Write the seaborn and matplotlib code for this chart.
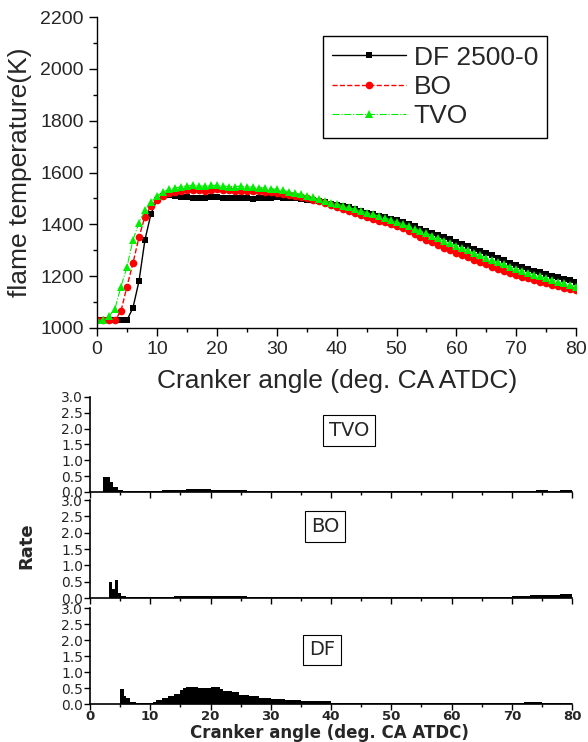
import numpy as np
import seaborn as sns
import matplotlib.pyplot as plt
from matplotlib.ticker import MultipleLocator

# flame temperature (K), 1 deg steps from 0 to 80 deg CA ATDC
angle = list(range(0, 81))
df_temp = [1030, 1030, 1030, 1030, 1030, 1030, 1078, 1180, 1340, 1440,
           1495, 1510, 1512, 1510, 1507, 1505, 1503, 1500, 1503, 1505,
           1505, 1502, 1500, 1500, 1502, 1500, 1498, 1500, 1502, 1502,
           1505, 1503, 1500, 1500, 1497, 1495, 1492, 1489, 1485, 1480,
           1475, 1470, 1465, 1458, 1452, 1445, 1440, 1433, 1428, 1422,
           1417, 1408, 1400, 1392, 1383, 1375, 1367, 1358, 1350, 1342,
           1333, 1324, 1315, 1306, 1297, 1288, 1280, 1271, 1262, 1252,
           1243, 1236, 1228, 1221, 1215, 1208, 1202, 1196, 1190, 1184, 1178]
bo_temp = [1030, 1030, 1030, 1030, 1065, 1160, 1250, 1350, 1430, 1470,
           1495, 1510, 1520, 1525, 1530, 1532, 1533, 1532, 1530, 1533,
           1535, 1533, 1532, 1530, 1530, 1530, 1528, 1527, 1526, 1524,
           1522, 1518, 1514, 1510, 1505, 1500, 1495, 1490, 1484, 1476,
           1468, 1460, 1452, 1444, 1436, 1428, 1420, 1414, 1408, 1402,
           1395, 1384, 1373, 1362, 1351, 1340, 1330, 1320, 1310, 1300,
           1290, 1281, 1272, 1263, 1254, 1245, 1237, 1229, 1221, 1213,
           1205, 1198, 1191, 1185, 1178, 1172, 1167, 1162, 1156, 1151, 1147]
tvo_temp = [1030, 1030, 1045, 1075, 1160, 1235, 1340, 1405, 1455, 1485,
            1510, 1525, 1535, 1540, 1545, 1548, 1550, 1548, 1547, 1550,
            1550, 1548, 1546, 1546, 1547, 1545, 1543, 1542, 1540, 1538,
            1535, 1531, 1526, 1521, 1516, 1510, 1504, 1497, 1490, 1484,
            1478, 1472, 1465, 1458, 1452, 1445, 1438, 1432, 1425, 1418,
            1410, 1401, 1392, 1383, 1374, 1365, 1356, 1346, 1337, 1327,
            1318, 1308, 1299, 1289, 1280, 1270, 1262, 1253, 1245, 1236,
            1228, 1221, 1214, 1206, 1199, 1192, 1185, 1179, 1172, 1166, 1160]

# rate bars: bin edges (deg) and heights
tvo_edges = [0, 2.2, 3.3, 3.8, 4.7, 5.5, 7, 10, 12, 14, 16, 18, 20, 22, 24, 26,
             28, 30, 35, 40, 45, 50, 55, 60, 65, 70, 72, 74, 76, 78, 80]
tvo_rate = [0, 0.47, 0.3, 0.15, 0.05, 0.03, 0.02, 0.03, 0.05, 0.07, 0.09, 0.08,
            0.07, 0.06, 0.05, 0.04, 0.03, 0.03, 0.02, 0.02, 0.02, 0.02, 0.02,
            0.03, 0.03, 0.04, 0.03, 0.06, 0.04, 0.07]
bo_edges = [0, 3.2, 3.6, 4.1, 4.7, 5.2, 6, 10, 14, 18, 22, 26, 30, 40, 50, 60,
            65, 70, 73, 76, 78, 80]
bo_rate = [0, 0.5, 0.29, 0.55, 0.15, 0.05, 0.02, 0.03, 0.05, 0.06, 0.05, 0.04,
           0.03, 0.02, 0.02, 0.03, 0.04, 0.06, 0.08, 0.1, 0.12]
df_edges = [0, 5, 5.6, 6, 6.7, 7.7, 9.3, 10.4, 11, 12, 13, 14, 15, 15.5, 16, 18,
            20, 21.5, 22, 23.5, 24.7, 26.4, 28, 30, 32.4, 35, 40, 50, 60, 70,
            72, 75, 80]
df_rate = [0, 0.47, 0.25, 0.2, 0.08, 0.03, 0.05, 0.08, 0.13, 0.2, 0.26, 0.33,
           0.45, 0.52, 0.53, 0.52, 0.54, 0.48, 0.42, 0.38, 0.28, 0.25, 0.2,
           0.15, 0.12, 0.1, 0.04, 0.03, 0.03, 0.04, 0.07, 0.04]

sns.set_style('ticks')
plt.rcParams['font.family'] = ['Liberation Sans', 'DejaVu Sans']
plt.rcParams['xtick.direction'] = 'out'
plt.rcParams['ytick.direction'] = 'out'

fig = plt.figure(figsize=(5.88, 7.42), dpi=100)

# ---- top: flame temperature ----
ax = fig.add_axes([0.165, 0.558, 0.815, 0.419])
sns.lineplot(x=angle, y=df_temp, ax=ax, color='black', marker='s', markersize=5,
             markeredgewidth=0, lw=1, label='DF 2500-0')
sns.lineplot(x=angle, y=bo_temp, ax=ax, color='#ff0000', marker='o', markersize=5.5,
             markeredgewidth=0, lw=1, linestyle='--', label='BO')
sns.lineplot(x=angle, y=tvo_temp, ax=ax, color='#00ee00', marker='^', markersize=6,
             markeredgewidth=0, lw=0.8, linestyle='-.', label='TVO')
ax.set_xlim(0, 80)
ax.set_ylim(1000, 2200)
ax.xaxis.set_major_locator(MultipleLocator(10))
ax.xaxis.set_minor_locator(MultipleLocator(5))
ax.yaxis.set_major_locator(MultipleLocator(200))
ax.yaxis.set_minor_locator(MultipleLocator(100))
ax.tick_params(which='major', length=6, width=1, labelsize=14, color='black')
ax.tick_params(which='minor', length=3, width=1, color='black')
sns.despine(ax=ax)
for s in ['left', 'bottom']:
    ax.spines[s].set_color('black')
    ax.spines[s].set_linewidth(1)
ax.set_xlabel('Cranker angle (deg. CA ATDC)', fontsize=19, labelpad=8)
ax.set_ylabel('flame temperature(K)', fontsize=19, labelpad=6)
leg = ax.legend(loc='upper left', bbox_to_anchor=(0.443, 0.98), fontsize=19,
                frameon=True, fancybox=False, framealpha=1, edgecolor='black',
                handlelength=2.8, handletextpad=0.3, labelspacing=0.2,
                borderpad=0.35)
leg.get_frame().set_linewidth(1)

# ---- bottom: rate panels ----
panels = [('TVO', tvo_edges, tvo_rate, 0.337, 0.128, 43, 1.95),
          ('BO', bo_edges, bo_rate, 0.194, 0.132, 39, 2.2),
          ('DF', df_edges, df_rate, 0.051, 0.129, 38.5, 1.7)]
axes = []
for name, edges, rate, y0, h, tx, ty in panels:
    a = fig.add_axes([0.153, y0, 0.820, h])
    centers = [(edges[i] + edges[i + 1]) / 2 for i in range(len(rate))]
    sns.histplot(x=centers, weights=rate, bins=edges, ax=a, color='black',
                 alpha=1, linewidth=0, edgecolor='black')
    a.set_xlim(0, 80)
    a.set_ylim(0, 3)
    a.xaxis.set_major_locator(MultipleLocator(10))
    a.xaxis.set_minor_locator(MultipleLocator(5))
    a.yaxis.set_major_locator(MultipleLocator(0.5))
    a.yaxis.set_major_formatter(plt.FormatStrFormatter('%.1f'))
    a.tick_params(which='major', length=4, width=1, color='black')
    a.tick_params(which='minor', length=2.5, width=1, color='black')
    a.tick_params(axis='y', labelsize=10, pad=1)
    for lab in a.get_yticklabels():
        lab.set_family('DejaVu Sans')
    sns.despine(ax=a)
    for s in ['left', 'bottom']:
        a.spines[s].set_color('black')
        a.spines[s].set_linewidth(1.2)
    a.set_ylabel('')
    a.set_xlabel('')
    a.patch.set_alpha(0)
    a.text(tx, ty, name, ha='center', va='center', fontsize=14,
           family='DejaVu Sans',
           bbox=dict(boxstyle='square,pad=0.3', fc='white', ec='black', lw=0.8))
    axes.append(a)

for a in axes[:2]:
    a.tick_params(axis='x', labelbottom=False)
axes[2].tick_params(axis='x', labelsize=9.5, pad=0.5)
for lab in axes[2].get_xticklabels():
    lab.set_family('DejaVu Sans')
    lab.set_fontweight('bold')
fig.text(0.56, 0.006, 'Cranker angle (deg. CA ATDC)', ha='center', va='baseline',
         fontsize=12, fontweight='bold', family='DejaVu Sans')
fig.text(0.045, 0.265, 'Rate', rotation=90, ha='center', va='center',
         fontsize=13, fontweight='heavy', family='DejaVu Sans')

fig.savefig('out.png', dpi=100)
